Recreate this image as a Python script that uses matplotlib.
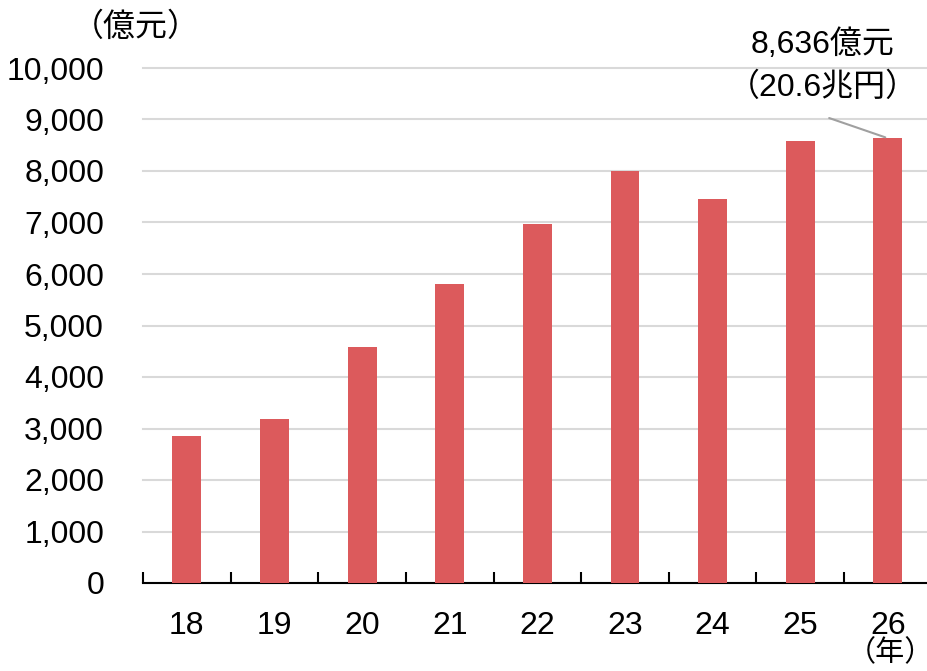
import numpy as np
import matplotlib.pyplot as plt

plt.rcParams['font.family'] = ['Liberation Sans', 'Noto Sans CJK JP']

years = ['18', '19', '20', '21', '22', '23', '24', '25', '26']
values = [2850, 3190, 4590, 5810, 6980, 8000, 7450, 8580, 8636]
yticks = list(range(0, 10001, 1000))

fig = plt.figure(figsize=(9.28, 6.71), dpi=100)
ax = fig.add_axes([143 / 928, 1 - 583 / 671, 1 - 143 / 928 + 0.004, (583 - 68) / 671])

x = np.arange(len(years))
ax.bar(x, values, width=0.33, color='#dc5a5c', zorder=3)

ax.set_xlim(-0.5, len(years) - 0.5)
ax.set_ylim(0, 10000)
ax.set_yticks(yticks)
ax.set_yticklabels([f'{v:,}' for v in yticks], fontsize=23)
ax.tick_params(axis='y', length=0, pad=28)
ax.yaxis.grid(True, color='#d9d9d9', linewidth=1.5, zorder=0)
for gl in ax.get_ygridlines():
    gl.set_clip_on(False)

ax.set_xticks(x)
ax.set_xticklabels(years, fontsize=23)
ax.set_xticks(np.arange(len(years)) - 0.5, minor=True)
ax.tick_params(axis='x', which='major', length=0, pad=20)
ax.tick_params(axis='x', which='minor', direction='in', length=8, width=1.5, color='black')

for s in ['left', 'right', 'top']:
    ax.spines[s].set_visible(False)
ax.spines['bottom'].set_linewidth(1.5)
ax.set_axisbelow(True)

# units
fig.text(136 / 928, 1 - 28 / 671, '（億元）', fontsize=23, ha='center', va='center')
fig.text(890 / 928, 1 - 653 / 671, '（年）', fontsize=21, ha='center', va='center')

# annotation for the last bar
ax.annotate('', xy=(x[-1], values[-1]), xytext=(x[-1] - 0.7, values[-1] + 410),
            arrowprops=dict(arrowstyle='-', color='#a0a0a0', lw=1.5),
            annotation_clip=False)
ax.text(x[-1] - 0.74, values[-1] + 1810, f'{values[-1]:,}億元', fontsize=23,
        ha='center', va='center', clip_on=False)
ax.text(x[-1] - 0.74, values[-1] + 990, '（20.6兆円）', fontsize=23,
        ha='center', va='center', clip_on=False)

fig.savefig('out.png', dpi=100)
